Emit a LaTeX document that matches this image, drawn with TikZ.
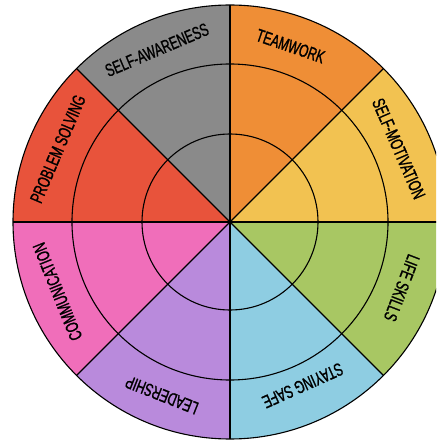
\documentclass[tikz,border=0pt]{standalone}
\usepackage{fontspec}
\setsansfont[FakeStretch=0.67, FakeBold=1.2]{Liberation Sans}
\definecolor{awareGray}{HTML}{8A8A8A}
\definecolor{teamOrange}{HTML}{EF8E36}
\definecolor{motivYellow}{HTML}{F2C251}
\definecolor{lifeGreen}{HTML}{A8C763}
\definecolor{safeBlue}{HTML}{8ECDE2}
\definecolor{leadPurple}{HTML}{B98ADC}
\definecolor{commPink}{HTML}{F06EBA}
\definecolor{probRed}{HTML}{E8533B}
\begin{document}
\begin{tikzpicture}[x=1pt, y=1pt, line width=1.1pt,
    lbl/.style={font=\sffamily\fontsize{18}{18}\selectfont, inner sep=0pt}]
        \useasboundingbox (-230,-219) rectangle (206,222);
        \clip (-230,-219) rectangle (206,222);
        
        \foreach \a/\c in {90/awareGray, 45/teamOrange, 0/motivYellow, -45/lifeGreen, -90/safeBlue, -135/leadPurple, 180/commPink, 135/probRed}
            \fill[\c] (0,0) -- (\a:217) arc[start angle=\a, delta angle=45, radius=217] -- cycle;
        
        \draw (0,0) circle (88) (0,0) circle (158) (0,0) circle (217);
        \foreach \a in {0,45,...,315}
            \draw (0,0) -- (\a:217);
        
        \foreach \a/\r/\t/\n in {113/187/SELF-AWARENESS/aware, 71/186/TEAMWORK/team, 23.5/184/SELF-MOTIVATION/motiv, -21/184/LIFE SKILLS/life, -66/179/STAYING SAFE/safe, -111.5/186/LEADERSHIP/lead, 202/186/COMMUNICATION/comm, 157/187/PROBLEM SOLVING/prob}
            \node[lbl, rotate=\a-90] (\n) at (\a:\r) {\t};
        
    \end{tikzpicture}
\end{document}
